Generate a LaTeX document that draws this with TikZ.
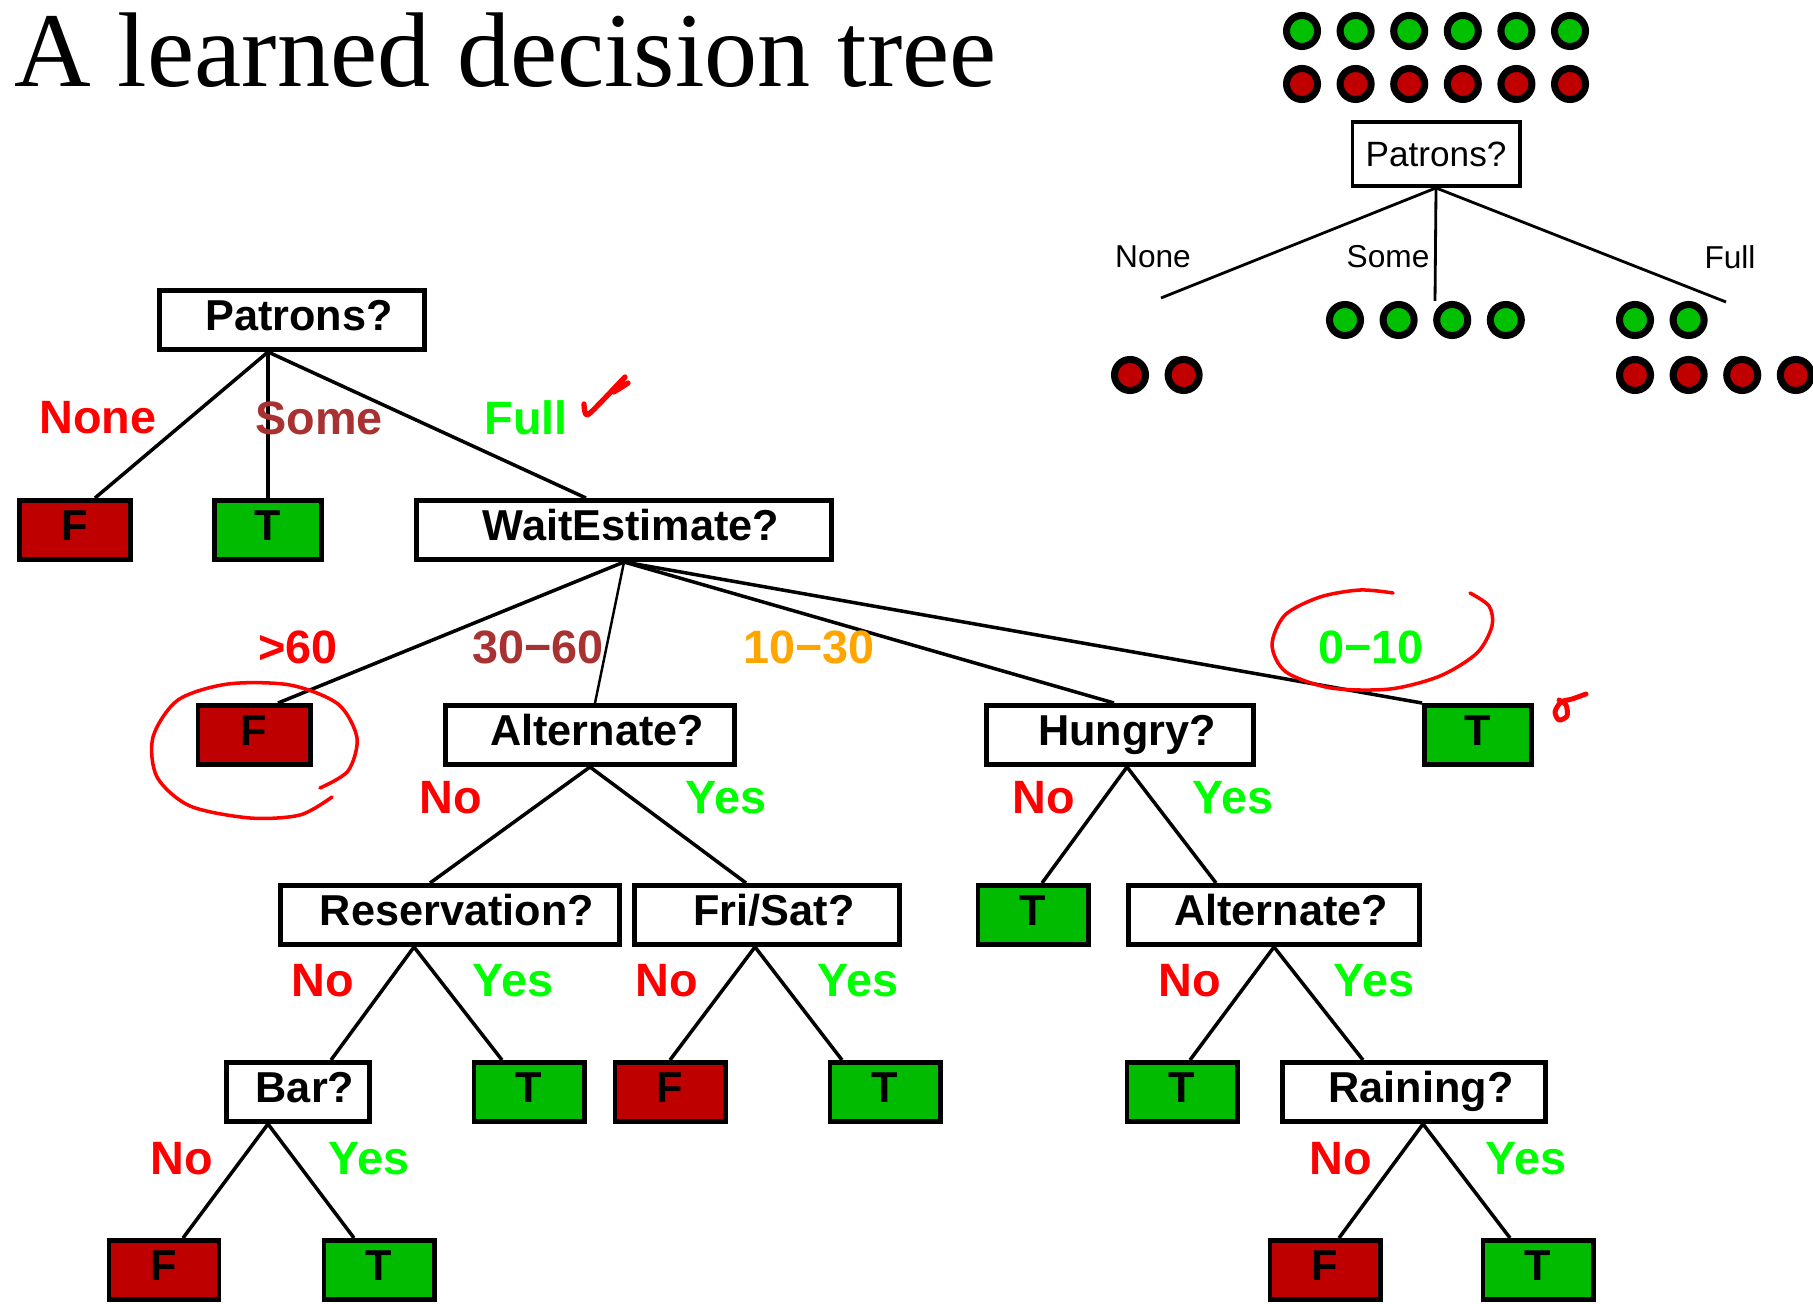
\documentclass[tikz,border=0pt]{standalone}
\usepackage{fontspec}
\setmainfont{Liberation Serif}
\setsansfont{Liberation Sans}
\usepackage{xcolor}
\usetikzlibrary{calc}

\definecolor{leafred}{HTML}{BF0000}
\definecolor{leafgreen}{HTML}{00BB00}
\definecolor{labred}{HTML}{FF0000}
\definecolor{labgreen}{HTML}{00FF00}
\definecolor{labbrown}{HTML}{A83232}
\definecolor{laborange}{HTML}{FFA500}
\definecolor{ballgreen}{HTML}{00C000}
\definecolor{ballred}{HTML}{C00000}
\definecolor{penred}{HTML}{FF0000}

\begin{document}
\begin{tikzpicture}[
    x=0.01cm, y=-0.01cm,
    every node/.style={font=\sffamily},
    boxbase/.style={draw, line width=1.4pt, fill=white, minimum height=0.59cm, inner sep=0pt,
        text height=0.72em, text depth=0.12em,
        font=\sffamily\bfseries\fontsize{12.3}{14}\selectfont},
    test/.style={boxbase, execute at begin node={\hspace{0.14cm}}},
    leafF/.style={boxbase, fill=leafred, minimum width=1.10cm},
    leafT/.style={boxbase, fill=leafgreen, minimum width=1.10cm},
    lab/.style={inner sep=0pt, font=\sffamily\bfseries\fontsize{13.3}{15}\selectfont},
    small/.style={inner sep=0pt, font=\sffamily\fontsize{9}{11}\selectfont},
    branch/.style={line width=1pt},
    ball/.style={draw=black, line width=2pt},
    pen/.style={draw=penred, line width=1pt, line cap=round, line join=round}
]
\useasboundingbox (0,0) rectangle (1813,1304);

% Title
\node[anchor=base west, inner sep=0pt, font=\rmfamily\fontsize{30.2}{34}\selectfont] (title) at (14,87) {A learned decision tree};

% Small tree (top right)
\foreach \i in {0,...,5} {
  \draw[ball, fill=ballgreen] (1302+53.6*\i,31) circle[radius=0.155cm];
  \draw[ball, fill=ballred] (1302+53.6*\i,84) circle[radius=0.155cm];
}
\node[draw, line width=1.1pt, minimum width=1.67cm, minimum height=0.64cm, inner sep=0pt,
      font=\sffamily\fontsize{10}{12}\selectfont] (mpat) at (1436,154) {Patrons?};
\coordinate (mnone) at (1161,298);
\coordinate (msome) at (1435,301);
\coordinate (mfull) at (1726,302);
\draw[line width=0.8pt] (mpat.south) -- (mnone);
\draw[line width=0.8pt] (mpat.south) -- (msome);
\draw[line width=0.8pt] (mpat.south) -- (mfull);
\node[small] (mlnone) at (1153,257) {None};
\node[small] (mlsome) at (1388,257) {Some};
\node[small] (mlfull) at (1730,257) {Full};
\foreach \i in {0,...,3} \draw[ball, fill=ballgreen] (1345+53.6*\i,320) circle[radius=0.155cm];
\foreach \i in {0,1} \draw[ball, fill=ballred] (1130+53.6*\i,375) circle[radius=0.155cm];
\foreach \i in {0,1} \draw[ball, fill=ballgreen] (1635+53.6*\i,320) circle[radius=0.155cm];
\foreach \i in {0,...,3} \draw[ball, fill=ballred] (1635+53.6*\i,375) circle[radius=0.155cm];

% Learned tree
\node[test, minimum width=2.65cm] (pat) at (292,320) {Patrons?};
\node[leafF, minimum width=1.11cm] (f1) at (75,530) {F};
\node[leafT, minimum width=1.07cm] (t1) at (268,530) {T};
\node[test, minimum width=4.14cm] (wait) at (624,530) {WaitEstimate?};
\node[leafF, minimum width=1.12cm] (f2) at (254,735) {F};
\node[test, minimum width=2.88cm] (alt) at (590,735) {Alternate?};
\node[test, minimum width=2.66cm] (hun) at (1120,735) {Hungry?};
\node[leafT, minimum width=1.07cm] (t2) at (1478,735) {T};
\node[test, minimum width=3.38cm] (res) at (450,915) {Reservation?};
\node[test, minimum width=2.64cm] (fri) at (767,915) {Fri/Sat?};
\node[leafT] (t3) at (1033,915) {T};
\node[test, minimum width=2.91cm] (alt2) at (1274,915) {Alternate?};
\node[test, minimum width=1.43cm] (bar) at (298,1092) {Bar?};
\node[leafT] (t4) at (529,1092) {T};
\node[leafF] (f3) at (670,1092) {F};
\node[leafT] (t5) at (885,1092) {T};
\node[leafT] (t6) at (1182,1092) {T};
\node[test, minimum width=2.63cm] (rain) at (1414,1092) {Raining?};
\node[leafF] (f4) at (164,1270) {F};
\node[leafT] (t7) at (379,1270) {T};
\node[leafF] (f5) at (1325,1270) {F};
\node[leafT] (t8) at (1538,1270) {T};

% Branches
\draw[branch] ($(pat.south)+(-24,0)$) -- ($(f1.north)+(20,0)$);
\draw[branch] ($(pat.south)+(-24,0)$) -- (t1.north);
\draw[branch] ($(pat.south)+(-24,0)$) -- ($(wait.north)+(-38,0)$);
\draw[branch] (wait.south) -- ($(f2.north)+(24,0)$);
\draw[line width=0.7pt] (wait.south) -- ($(alt.north)+(5,0)$);
\draw[branch] (wait.south) -- ($(hun.north)+(-6,0)$);
\draw[branch] (wait.south) -- (t2.north west);
\draw[branch] (alt.south) -- ($(res.north)+(-20,0)$);
\draw[branch] (alt.south) -- ($(fri.north)+(-21,0)$);
\draw[branch] ($(hun.south)+(7,0)$) -- ($(t3.north)+(9,0)$);
\draw[branch] ($(hun.south)+(7,0)$) -- ($(alt2.north)+(-58,0)$);
\draw[branch] ($(res.south)+(-36,0)$) -- ($(bar.north)+(33,0)$);
\draw[branch] ($(res.south)+(-36,0)$) -- ($(t4.north)+(-27,0)$);
\draw[branch] ($(fri.south)+(-12,0)$) -- (f3.north);
\draw[branch] ($(fri.south)+(-12,0)$) -- ($(t5.north)+(-43,0)$);
\draw[branch] (alt2.south) -- ($(t6.north)+(8,0)$);
\draw[branch] (alt2.south) -- ($(rain.north)+(-51,0)$);
\draw[branch] ($(bar.south)+(-30,0)$) -- ($(f4.north)+(19,0)$);
\draw[branch] ($(bar.south)+(-30,0)$) -- ($(t7.north)+(-25,0)$);
\draw[branch] ($(rain.south)+(9,0)$) -- ($(f5.north)+(14,0)$);
\draw[branch] ($(rain.south)+(9,0)$) -- ($(t8.north)+(-28,0)$);

% Branch labels
\node[lab, text=labred] (lnone) at (98,418) {None};
\node[lab, text=labbrown] (lsome) at (319,418) {Some};
\node[lab, text=labgreen] (lfull) at (526,418) {Full};
\node[lab, text=labred] (lgt) at (298,647) {>60};
\node[lab, text=labbrown] (l3060) at (538,647) {30−60};
\node[lab, text=laborange] (l1030) at (809,647) {10−30};
\node[lab, text=labgreen] (l010) at (1371,647) {0−10};
\node[lab, text=labred] (lno1) at (451,798) {No};
\node[lab, text=labgreen] (lyes1) at (726,798) {Yes};
\node[lab, text=labred] (lno2) at (1044,798) {No};
\node[lab, text=labgreen] (lyes2) at (1233,798) {Yes};
\node[lab, text=labred] (lno3) at (323,981) {No};
\node[lab, text=labgreen] (lyes3) at (513,981) {Yes};
\node[lab, text=labred] (lno4) at (667,981) {No};
\node[lab, text=labgreen] (lyes4) at (858,981) {Yes};
\node[lab, text=labred] (lno5) at (1190,981) {No};
\node[lab, text=labgreen] (lyes5) at (1374,981) {Yes};
\node[lab, text=labred] (lno6) at (182,1159) {No};
\node[lab, text=labgreen] (lyes6) at (369,1159) {Yes};
\node[lab, text=labred] (lno7) at (1341,1159) {No};
\node[lab, text=labgreen] (lyes7) at (1526,1159) {Yes};

% Hand marks
\draw[pen, line width=1.5pt] plot[smooth] coordinates {(584,404) (587,415) (604,399) (625,377) (613,392) (628,383)};
\draw[pen] plot[smooth] coordinates {(332,797) (300,815) (250,818) (190,806) (157,777) (153,737) (178,700) (228,684) (290,685) (338,704) (357,738) (348,771) (320,788)};
\draw[pen] plot[smooth] coordinates {(1470,593) (1489,606) (1492,626) (1477,653) (1440,676) (1390,689) (1331,688) (1286,672) (1272,645) (1285,615) (1320,597) (1360,590) (1393,593)};
\draw[pen, line width=1.4pt] plot[smooth] coordinates {(1586,694) (1572,699) (1561,702) (1555,712) (1559,720) (1567,716) (1566,705) (1559,700)};
\end{tikzpicture}
\end{document}
